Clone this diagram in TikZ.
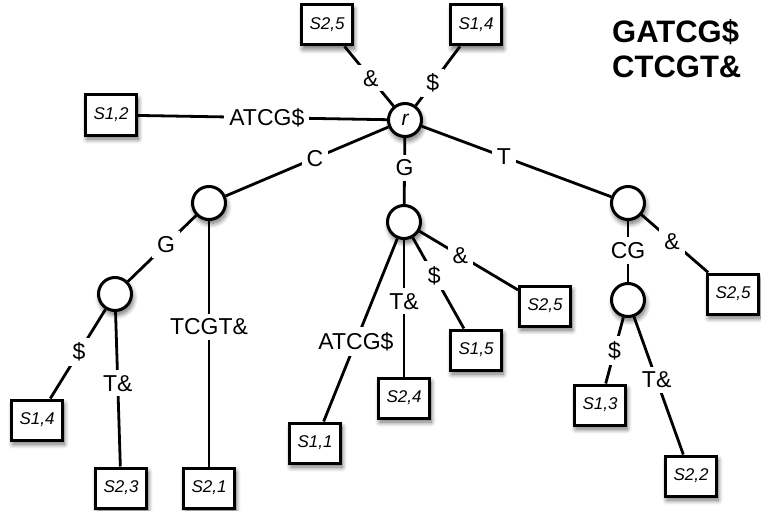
\documentclass[tikz,border=0pt]{standalone}
\usepackage{fontspec}
\setmainfont{Liberation Sans}
\usetikzlibrary{calc,shadows.blur}

\begin{document}
\begin{tikzpicture}[x=1pt,y=-1pt,
  softshadow/.style={blur shadow={shadow xshift=1.5pt, shadow yshift=-4pt,
      shadow blur radius=5pt, shadow blur steps=10, shadow opacity=60}},
  leaf/.style={draw, line width=3pt, fill=white, minimum width=51pt,
      minimum height=40pt, inner sep=0pt, softshadow,
      font=\fontsize{17}{20}\selectfont\itshape},
  branch/.style={circle, draw, line width=3pt, fill=white,
      minimum size=33pt, inner sep=0pt, softshadow},
  edge/.style={line width=2.8pt},
  lbl/.style={fill=white, inner sep=5pt, font=\fontsize{23}{25}\selectfont},
  head/.style={anchor=west, inner sep=0pt, font=\fontsize{31}{34}\selectfont\bfseries}
]
\useasboundingbox (0,0) rectangle (761,511);

% the two input strings
\node[head] (str1) at (612,32) {GATCG\$};
\node[head] (str2) at (612,67) {CTCGT\&};

% internal nodes
\node[branch] (r)  at (405,120) {\fontsize{21}{24}\selectfont\itshape r};
\node[branch] (nC) at (209,203) {};
\node[branch] (nG) at (404,222) {};
\node[branch] (nT) at (628,203) {};
\node[branch] (nCG) at (115,294) {};
\node[branch] (nTC) at (628,300) {};

% leaves
\node[leaf] (s25a) at (327,25)  {S2,5};
\node[leaf] (s14a) at (476,25)  {S1,4};
\node[leaf] (s12)  at (111,115) {S1,2};
\node[leaf] (s14b) at (37,420)  {S1,4};
\node[leaf] (s23)  at (121,488) {S2,3};
\node[leaf] (s21)  at (209,488) {S2,1};
\node[leaf] (s11)  at (315,443) {S1,1};
\node[leaf] (s24)  at (404,398) {S2,4};
\node[leaf] (s15)  at (476,350) {S1,5};
\node[leaf] (s25b) at (545,306) {S2,5};
\node[leaf] (s25c) at (733,294) {S2,5};
\node[leaf] (s13)  at (600,405) {S1,3};
\node[leaf] (s22)  at (691,476) {S2,2};

% edges out of the root
\draw[edge] (r) -- (s25a);
\draw[edge] (r) -- (s14a);
\draw[edge] (r) -- (s12);
\draw[edge] (r) -- (nC);
\draw[edge] (r) -- (nG);
\draw[edge] (r) -- (nT);
\node[lbl] at ($(r)!0.44!(s25a)$) {\&};
\node[lbl] at ($(r)!0.39!(s14a)$) {\$};
\node[lbl] at ($(r)!0.47!(s12)$) {ATCG\$};
\node[lbl] at ($(r)!0.46!(nC)$) {C};
\node[lbl] at ($(r)!0.47!(nG)$) {G};
\node[lbl] at ($(r)!0.444!(nT)$) {T};

% subtree under C
\draw[edge] (nC) -- (nCG);
\draw[edge] (nC) -- (s21);
\draw[edge] (nCG) -- (s14b);
\draw[edge] (nCG) -- (s23);
\node[lbl] at ($(nC)!0.457!(nCG)$) {G};
\node[lbl] at ($(nC)!0.435!(s21)$) {TCGT\&};
\node[lbl] at ($(nCG)!0.46!(s14b)$) {\$};
\node[lbl] at ($(nCG)!0.46!(s23)$) {T\&};

% subtree under G
\draw[edge] (nG) -- (s11);
\draw[edge] (nG) -- (s24);
\draw[edge] (nG) -- (s15);
\draw[edge] (nG) -- (s25b);
\node[lbl] at ($(nG)!0.54!(s11)$) {ATCG\$};
\node[lbl] at ($(nG)!0.45!(s24)$) {T\&};
\node[lbl] at ($(nG)!0.42!(s15)$) {\$};
\node[lbl] at ($(nG)!0.40!(s25b)$) {\&};

% subtree under T
\draw[edge] (nT) -- (nTC);
\draw[edge] (nT) -- (s25c);
\draw[edge] (nTC) -- (s13);
\draw[edge] (nTC) -- (s22);
\node[lbl] at ($(nT)!0.49!(nTC)$) {CG};
\node[lbl] at ($(nT)!0.42!(s25c)$) {\&};
\node[lbl] at ($(nTC)!0.48!(s13)$) {\$};
\node[lbl] at ($(nTC)!0.455!(s22)$) {T\&};
\end{tikzpicture}
\end{document}
